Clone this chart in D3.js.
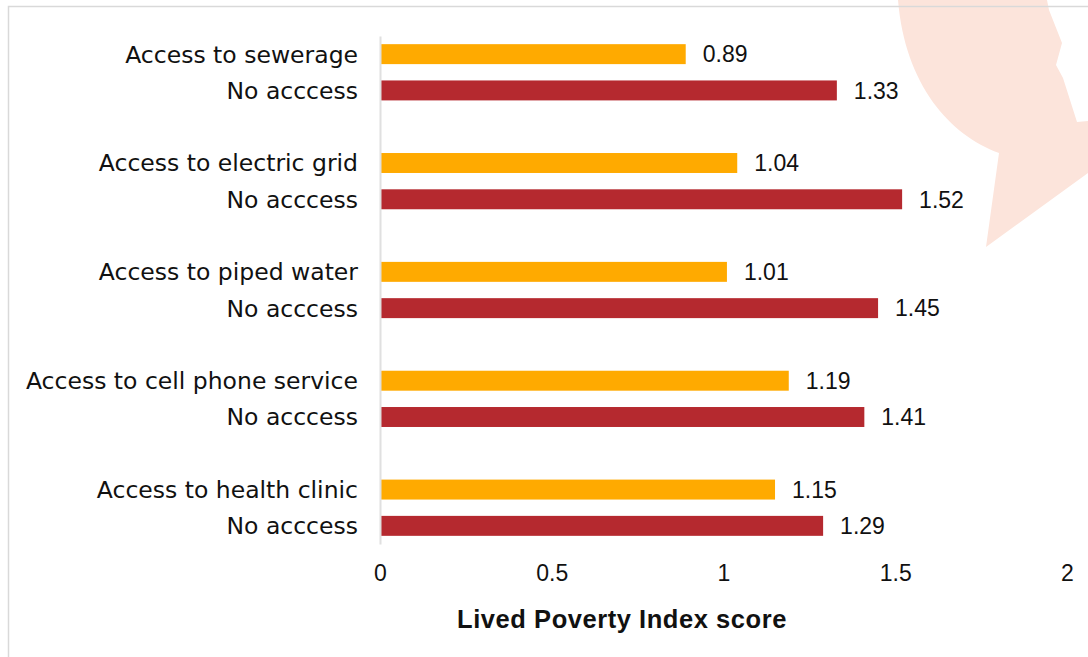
<!DOCTYPE html>
<html>
<head>
<meta charset="utf-8">
<script src="https://cdn.jsdelivr.net/npm/d3@7"></script>
<style>
  html, body { margin: 0; padding: 0; background: #ffffff; }
  svg { display: block; }
</style>
</head>
<body>
<svg id="chart" width="1088" height="657"></svg>
<script>
// ---- Data ----
const groups = ["Access to sewerage", "Access to electric grid", "Access to piped water", "Access to cell phone service", "Access to health clinic"];
const noAccessLabel = "No acccess";
const accessValues = [0.89, 1.04, 1.01, 1.19, 1.15];
const noAccessValues = [1.33, 1.52, 1.45, 1.41, 1.29];
const xTicks = [0, 0.5, 1, 1.5, 2];
const axisTitle = "Lived Poverty Index score";

const colors = { access: "#FFAA00", none: "#B5292F" };
const labelFont = "'DejaVu Sans', sans-serif";
const numFont = "'Liberation Sans', Arial, sans-serif";

// ---- Build rows (with spacer rows between groups) ----
const rows = [];
groups.forEach((g, i) => {
  rows.push({ id: "a" + i, label: g, value: accessValues[i], type: "access" });
  rows.push({ id: "n" + i, label: noAccessLabel, value: noAccessValues[i], type: "none" });
  if (i < groups.length - 1) rows.push({ id: "gap" + i, label: "", value: null, type: "gap" });
});

const svg = d3.select("#chart");
const W = 1088, H = 657;
const margin = { left: 380, right: 21, top: 36, bottom: 113 };

// Background decoration shape
svg.append("path")
  .attr("d", "M898,0 L1047,0 L1049,10 L1062,43 L1056,65 L1063,78 L1077,122 L1088,121 L1088,173 L986,247 L999,153 C950,135 905,85 898,0 Z")
  .attr("fill", "#FCE4DB");

// Frame
svg.append("path")
  .attr("d", "M8.5,657 L8.5,6.5 L1088,6.5")
  .attr("fill", "none")
  .attr("stroke", "#D9D9D9")
  .attr("stroke-width", 1.5);

const x = d3.scaleLinear().domain([0, 2]).range([margin.left, W - margin.right]);
const y = d3.scaleBand().domain(rows.map(d => d.id)).range([margin.top, H - margin.bottom]).paddingInner(0.45).paddingOuter(0.225);

// Bars
const dataRows = rows.filter(d => d.type !== "gap");
svg.append("g").selectAll("rect")
  .data(dataRows)
  .join("rect")
  .attr("x", x(0) + 1)
  .attr("y", d => y(d.id))
  .attr("width", d => x(d.value) - x(0) - 1)
  .attr("height", y.bandwidth())
  .attr("fill", d => colors[d.type]);

// Value labels
svg.append("g").selectAll("text")
  .data(dataRows)
  .join("text")
  .attr("x", d => x(d.value) + 17)
  .attr("y", d => y(d.id) + y.bandwidth() / 2)
  .attr("dy", "0.36em")
  .attr("font-family", numFont)
  .attr("font-size", 23)
  .attr("fill", "#111")
  .text(d => d.value.toFixed(2));

// Category axis (vertical)
const yAxis = d3.axisLeft(y).tickSize(0).tickPadding(22)
  .tickFormat(id => { const r = rows.find(d => d.id === id); return r ? r.label : ""; });
const yg = svg.append("g").attr("transform", `translate(${x(0)},0)`).call(yAxis);
yg.select(".domain").attr("stroke", "#E0E0E0").attr("stroke-width", 2);
yg.selectAll("text")
  .attr("font-family", labelFont)
  .attr("font-size", 23.5)
  .attr("fill", "#111")
  .attr("dy", "0.36em");

// Value axis (bottom)
const xAxis = d3.axisBottom(x).tickValues(xTicks).tickSize(0).tickPadding(21).tickFormat(d3.format("~g"));
const xg = svg.append("g").attr("transform", `translate(0,${H - margin.bottom})`).call(xAxis);
xg.select(".domain").remove();
xg.selectAll("text")
  .attr("font-family", numFont)
  .attr("font-size", 23)
  .attr("fill", "#111");

// Axis title
svg.append("text")
  .attr("x", 622)
  .attr("y", 628)
  .attr("text-anchor", "middle")
  .attr("font-family", numFont)
  .attr("font-weight", "bold")
  .attr("font-size", 25.5)
  .attr("letter-spacing", 0.55)
  .attr("fill", "#111")
  .text(axisTitle);
</script>
</body>
</html>
